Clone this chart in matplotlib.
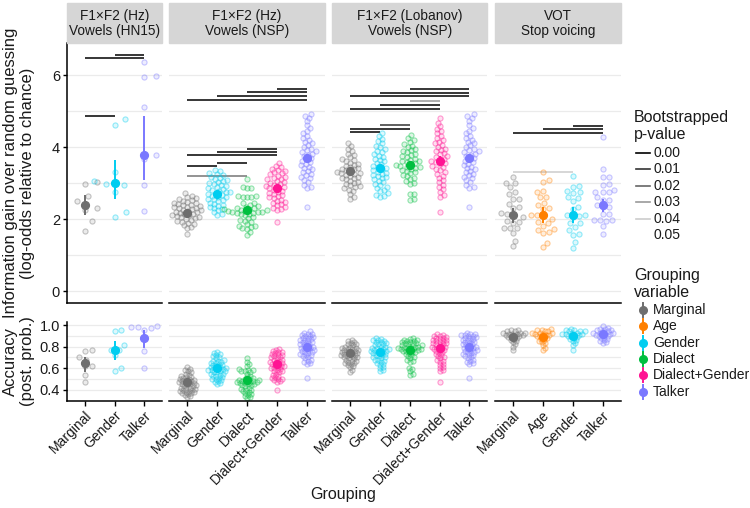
import numpy as np
import matplotlib.pyplot as plt
from matplotlib.lines import Line2D
from matplotlib.patches import Rectangle

plt.rcParams['font.family'] = ['Liberation Sans', 'DejaVu Sans']

# %% facets and groups
facet_labels = ['F1×F2 (Hz)\nVowels (HN15)', 'F1×F2 (Hz)\nVowels (NSP)',
                'F1×F2 (Lobanov)\nVowels (NSP)', 'VOT\nStop voicing']
facet_groups = [['Marginal', 'Gender', 'Talker'],
                ['Marginal', 'Gender', 'Dialect', 'Dialect+Gender', 'Talker'],
                ['Marginal', 'Gender', 'Dialect', 'Dialect+Gender', 'Talker'],
                ['Marginal', 'Age', 'Gender', 'Talker']]
legend_groups = ['Marginal', 'Age', 'Gender', 'Dialect', 'Dialect+Gender', 'Talker']
group_colors = {'Marginal': '#6e6e6e', 'Age': '#ff8000', 'Gender': '#00cdf0',
                'Dialect': '#00bf3f', 'Dialect+Gender': '#ff1493', 'Talker': '#7a78ff'}
p_levels = [0.00, 0.01, 0.02, 0.03, 0.04, 0.05]

# %% information gain (log-odds), one list per group
gain_hn15_marginal = [3.04, 2.98, 2.65, 2.50, 2.30, 2.25, 1.94, 1.68]
gain_hn15_gender = [4.78, 4.61, 3.30, 3.06, 2.98, 2.94, 2.74, 2.19, 2.06]
gain_hn15_talker = [6.35, 5.98, 5.94, 5.11, 3.78, 3.67, 2.96, 2.22]

gain_hz_marginal = [2.73, 2.65, 2.62, 2.58, 2.55, 2.52, 2.50, 2.48, 2.45, 2.44, 2.42, 2.40, 2.38, 2.36,
                    2.34, 2.33, 2.31, 2.30, 2.28, 2.26, 2.24, 2.22, 2.20, 2.19, 2.17, 2.15, 2.14, 2.12,
                    2.10, 2.08, 2.06, 2.05, 2.03, 2.01, 1.98, 1.96, 1.93, 1.90, 1.87, 1.83, 1.79, 1.74, 1.58]
gain_hz_gender = [3.36, 3.33, 3.28, 3.25, 3.22, 3.18, 3.15, 3.12, 3.08, 3.05, 3.02, 3.00, 2.97, 2.94,
                  2.92, 2.89, 2.86, 2.84, 2.81, 2.79, 2.76, 2.74, 2.72, 2.70, 2.68, 2.65, 2.62, 2.60,
                  2.57, 2.55, 2.52, 2.49, 2.46, 2.43, 2.40, 2.37, 2.34, 2.31, 2.28, 2.24, 2.19, 2.15, 2.11]
gain_hz_dialect = [3.10, 2.88, 2.87, 2.86, 2.64, 2.63, 2.62, 2.61, 2.60, 2.45, 2.44, 2.40, 2.36, 2.34,
                   2.32, 2.30, 2.28, 2.27, 2.25, 2.24, 2.23, 2.22, 2.21, 2.20, 2.19, 2.18, 2.17, 2.15,
                   2.13, 2.10, 2.05, 2.02, 1.98, 1.95, 1.92, 1.85, 1.82, 1.80, 1.78, 1.75, 1.72, 1.65, 1.56]
gain_hz_dialect_gender = [3.57, 3.48, 3.45, 3.40, 3.37, 3.34, 3.30, 3.27, 3.24, 3.21, 3.18, 3.15, 3.12,
                          3.10, 3.07, 3.04, 3.01, 2.98, 2.96, 2.93, 2.90, 2.88, 2.85, 2.82, 2.79, 2.76,
                          2.73, 2.70, 2.67, 2.64, 2.61, 2.58, 2.54, 2.50, 2.47, 2.44, 2.41, 2.38, 2.34,
                          2.30, 2.27, 2.25, 1.91]
gain_hz_talker = [4.93, 4.85, 4.82, 4.72, 4.60, 4.52, 4.45, 4.38, 4.32, 4.26, 4.20, 4.15, 4.10, 4.05,
                  4.00, 3.96, 3.92, 3.88, 3.85, 3.82, 3.78, 3.74, 3.70, 3.66, 3.62, 3.58, 3.54, 3.50,
                  3.46, 3.42, 3.38, 3.34, 3.30, 3.26, 3.22, 3.18, 3.13, 3.08, 3.02, 2.96, 2.90, 2.87, 2.34]

gain_lob_marginal = [4.12, 4.02, 3.94, 3.88, 3.82, 3.77, 3.72, 3.68, 3.64, 3.60, 3.57, 3.54, 3.51, 3.48,
                     3.45, 3.42, 3.40, 3.38, 3.35, 3.33, 3.31, 3.29, 3.27, 3.25, 3.23, 3.20, 3.18, 3.15,
                     3.13, 3.10, 3.07, 3.04, 3.01, 2.98, 2.95, 2.92, 2.89, 2.86, 2.82, 2.78, 2.70, 2.62, 2.55]
gain_lob_gender = [4.38, 4.30, 4.22, 4.16, 4.10, 4.04, 3.99, 3.94, 3.89, 3.85, 3.80, 3.76, 3.72, 3.68,
                   3.64, 3.60, 3.56, 3.52, 3.48, 3.44, 3.41, 3.38, 3.35, 3.32, 3.29, 3.26, 3.23, 3.20,
                   3.17, 3.14, 3.10, 3.06, 3.02, 2.98, 2.94, 2.90, 2.86, 2.82, 2.77, 2.72, 2.68, 2.65, 2.62]
gain_lob_dialect = [4.33, 4.25, 4.20, 4.14, 4.08, 4.04, 4.00, 3.96, 3.92, 3.88, 3.85, 3.82, 3.78, 3.75,
                    3.72, 3.68, 3.65, 3.62, 3.60, 3.58, 3.55, 3.52, 3.50, 3.48, 3.46, 3.44, 3.42, 3.40,
                    3.37, 3.34, 3.30, 3.27, 3.23, 3.19, 3.15, 3.10, 3.05, 3.00, 2.97, 2.71, 2.69, 2.55, 2.53]
gain_lob_dialect_gender = [4.80, 4.68, 4.58, 4.50, 4.44, 4.38, 4.32, 4.26, 4.20, 4.15, 4.10, 4.05, 4.00,
                           3.96, 3.92, 3.88, 3.84, 3.80, 3.76, 3.72, 3.68, 3.65, 3.62, 3.58, 3.55, 3.52,
                           3.48, 3.44, 3.40, 3.35, 3.30, 3.25, 3.20, 3.14, 3.08, 3.02, 2.96, 2.90, 2.84,
                           2.76, 2.68, 2.62, 2.20]
gain_lob_talker = [4.93, 4.85, 4.82, 4.72, 4.60, 4.52, 4.45, 4.38, 4.32, 4.26, 4.20, 4.15, 4.10, 4.05,
                   4.00, 3.96, 3.92, 3.88, 3.85, 3.82, 3.78, 3.74, 3.70, 3.66, 3.62, 3.58, 3.54, 3.50,
                   3.46, 3.42, 3.38, 3.34, 3.30, 3.26, 3.22, 3.18, 3.13, 3.08, 3.02, 2.96, 2.90, 2.87, 2.34]

gain_vot_marginal = [3.16, 3.00, 2.99, 2.88, 2.76, 2.69, 2.57, 2.56, 2.42, 2.33, 2.30, 2.16, 2.14, 2.12,
                     2.05, 1.95, 1.92, 1.90, 1.76, 1.75, 1.74, 1.60, 1.40, 1.24]
gain_vot_age = [3.30, 3.09, 3.04, 2.79, 2.74, 2.62, 2.60, 2.46, 2.40, 2.31, 2.28, 2.12, 2.10, 2.08,
                2.00, 1.91, 1.90, 1.80, 1.73, 1.69, 1.64, 1.60, 1.35, 1.22]
gain_vot_gender = [3.21, 2.92, 2.90, 2.77, 2.74, 2.73, 2.60, 2.58, 2.51, 2.34, 2.28, 2.12, 2.10, 2.08,
                   2.07, 1.90, 1.89, 1.79, 1.71, 1.58, 1.57, 1.37, 1.21]
gain_vot_talker = [4.29, 3.38, 3.18, 3.16, 2.97, 2.94, 2.81, 2.76, 2.75, 2.74, 2.60, 2.53, 2.52, 2.40,
                   2.34, 2.33, 2.14, 2.13, 1.98, 1.97, 1.97, 1.96, 1.81, 1.58]

# %% accuracy (posterior probability), one list per group
acc_hn15_marginal = [0.77, 0.76, 0.70, 0.68, 0.62, 0.62, 0.54, 0.47]
acc_hn15_gender = [0.95, 0.94, 0.81, 0.77, 0.77, 0.72, 0.60, 0.57]
acc_hn15_talker = [0.99, 0.98, 0.98, 0.97, 0.95, 0.88, 0.76, 0.60]

acc_hz_marginal = [0.61, 0.59, 0.58, 0.57, 0.56, 0.55, 0.54, 0.53, 0.52, 0.52, 0.51, 0.50, 0.50, 0.49,
                   0.49, 0.48, 0.48, 0.47, 0.47, 0.46, 0.46, 0.45, 0.45, 0.44, 0.44, 0.43, 0.43, 0.42,
                   0.42, 0.41, 0.41, 0.40, 0.40, 0.39, 0.39, 0.38, 0.38, 0.37, 0.37, 0.36, 0.35, 0.34, 0.33]
acc_hz_gender = [0.75, 0.74, 0.73, 0.72, 0.71, 0.70, 0.69, 0.68, 0.67, 0.67, 0.66, 0.65, 0.65, 0.64,
                 0.63, 0.63, 0.62, 0.61, 0.61, 0.60, 0.60, 0.59, 0.59, 0.58, 0.58, 0.57, 0.57, 0.56,
                 0.56, 0.55, 0.55, 0.54, 0.53, 0.53, 0.52, 0.51, 0.50, 0.50, 0.49, 0.48, 0.47, 0.46, 0.45]
acc_hz_dialect = [0.69, 0.66, 0.64, 0.62, 0.59, 0.58, 0.58, 0.57, 0.57, 0.56, 0.55, 0.53, 0.52, 0.51,
                  0.50, 0.50, 0.49, 0.49, 0.48, 0.48, 0.48, 0.47, 0.47, 0.47, 0.46, 0.46, 0.45, 0.45,
                  0.44, 0.44, 0.43, 0.42, 0.41, 0.40, 0.40, 0.39, 0.38, 0.37, 0.36, 0.35, 0.34, 0.33, 0.32]
acc_hz_dialect_gender = [0.78, 0.77, 0.76, 0.75, 0.75, 0.74, 0.73, 0.72, 0.72, 0.71, 0.70, 0.70, 0.69,
                         0.68, 0.68, 0.67, 0.66, 0.66, 0.65, 0.64, 0.64, 0.63, 0.62, 0.62, 0.61, 0.60,
                         0.60, 0.59, 0.58, 0.57, 0.57, 0.56, 0.55, 0.54, 0.53, 0.52, 0.51, 0.50, 0.50,
                         0.49, 0.48, 0.47, 0.40]
acc_hz_talker = [0.94, 0.93, 0.92, 0.92, 0.91, 0.90, 0.90, 0.89, 0.88, 0.88, 0.87, 0.86, 0.86, 0.85,
                 0.84, 0.84, 0.83, 0.82, 0.82, 0.81, 0.80, 0.80, 0.79, 0.79, 0.78, 0.77, 0.77, 0.76,
                 0.75, 0.75, 0.74, 0.73, 0.72, 0.72, 0.71, 0.70, 0.69, 0.68, 0.67, 0.66, 0.65, 0.64, 0.51]

acc_lob_marginal = [0.86, 0.85, 0.84, 0.83, 0.82, 0.82, 0.81, 0.80, 0.80, 0.79, 0.79, 0.78, 0.78, 0.77,
                    0.77, 0.76, 0.76, 0.75, 0.75, 0.74, 0.74, 0.73, 0.73, 0.72, 0.72, 0.71, 0.71, 0.70,
                    0.70, 0.69, 0.69, 0.68, 0.67, 0.67, 0.66, 0.65, 0.65, 0.64, 0.63, 0.62, 0.61, 0.58, 0.56]
acc_lob_gender = [0.88, 0.87, 0.86, 0.86, 0.85, 0.84, 0.84, 0.83, 0.82, 0.82, 0.81, 0.80, 0.80, 0.79,
                  0.79, 0.78, 0.78, 0.77, 0.77, 0.76, 0.76, 0.75, 0.75, 0.74, 0.74, 0.73, 0.72, 0.72,
                  0.71, 0.70, 0.70, 0.69, 0.68, 0.68, 0.67, 0.66, 0.65, 0.64, 0.63, 0.61, 0.60, 0.58, 0.57]
acc_lob_dialect = [0.88, 0.87, 0.86, 0.86, 0.85, 0.85, 0.84, 0.84, 0.83, 0.83, 0.82, 0.82, 0.81, 0.81,
                   0.80, 0.80, 0.80, 0.79, 0.79, 0.79, 0.78, 0.78, 0.78, 0.77, 0.77, 0.76, 0.76, 0.75,
                   0.75, 0.74, 0.73, 0.72, 0.71, 0.70, 0.69, 0.68, 0.67, 0.66, 0.60, 0.59, 0.57, 0.55, 0.54]
acc_lob_dialect_gender = [0.92, 0.91, 0.90, 0.90, 0.89, 0.88, 0.88, 0.87, 0.86, 0.86, 0.85, 0.85, 0.84,
                          0.83, 0.83, 0.82, 0.82, 0.81, 0.80, 0.80, 0.79, 0.79, 0.78, 0.77, 0.77, 0.76,
                          0.75, 0.74, 0.73, 0.72, 0.71, 0.70, 0.69, 0.68, 0.67, 0.66, 0.64, 0.63, 0.61,
                          0.60, 0.58, 0.57, 0.47]
acc_lob_talker = [0.93, 0.92, 0.92, 0.91, 0.91, 0.90, 0.90, 0.89, 0.88, 0.88, 0.87, 0.86, 0.86, 0.85,
                  0.84, 0.84, 0.83, 0.82, 0.82, 0.81, 0.80, 0.80, 0.79, 0.79, 0.78, 0.77, 0.77, 0.76,
                  0.75, 0.75, 0.74, 0.73, 0.72, 0.72, 0.71, 0.70, 0.69, 0.68, 0.67, 0.66, 0.65, 0.64, 0.51]

acc_vot_marginal = [0.95, 0.95, 0.94, 0.94, 0.93, 0.93, 0.93, 0.92, 0.92, 0.92, 0.91, 0.91, 0.90, 0.90,
                    0.89, 0.89, 0.88, 0.87, 0.86, 0.85, 0.84, 0.82, 0.80, 0.77]
acc_vot_age = [0.96, 0.95, 0.95, 0.94, 0.94, 0.93, 0.93, 0.93, 0.92, 0.92, 0.91, 0.91, 0.90, 0.90,
               0.89, 0.88, 0.87, 0.86, 0.85, 0.84, 0.83, 0.81, 0.79, 0.77]
acc_vot_gender = [0.96, 0.95, 0.95, 0.94, 0.94, 0.94, 0.93, 0.93, 0.92, 0.92, 0.92, 0.91, 0.91, 0.90,
                  0.90, 0.89, 0.88, 0.87, 0.86, 0.85, 0.83, 0.81, 0.77]
acc_vot_talker = [0.99, 0.97, 0.96, 0.96, 0.95, 0.95, 0.94, 0.94, 0.93, 0.93, 0.93, 0.92, 0.92, 0.91,
                  0.91, 0.90, 0.90, 0.89, 0.88, 0.87, 0.86, 0.85, 0.84, 0.83]

# %% summary estimates (mean and 95% interval) per facet
gain_mean = [[2.39, 2.99, 3.77], [2.18, 2.71, 2.25, 2.85, 3.69],
             [3.34, 3.41, 3.50, 3.62, 3.69], [2.11, 2.12, 2.11, 2.38]]
gain_lo = [[2.12, 2.56, 3.08], [2.10, 2.62, 2.16, 2.76, 3.58],
           [3.25, 3.31, 3.41, 3.49, 3.58], [1.90, 1.90, 1.90, 2.20]]
gain_hi = [[2.67, 3.64, 4.86], [2.26, 2.80, 2.34, 2.95, 3.80],
           [3.43, 3.51, 3.60, 3.76, 3.80], [2.31, 2.34, 2.33, 2.56]]
acc_mean = [[0.643, 0.770, 0.876], [0.467, 0.597, 0.486, 0.634, 0.795],
            [0.737, 0.746, 0.770, 0.783, 0.798], [0.891, 0.888, 0.895, 0.913]]
acc_lo = [[0.566, 0.672, 0.783], [0.452, 0.582, 0.468, 0.617, 0.780],
          [0.722, 0.730, 0.755, 0.765, 0.783], [0.872, 0.870, 0.877, 0.896]]
acc_hi = [[0.705, 0.851, 0.953], [0.482, 0.612, 0.504, 0.651, 0.810],
          [0.752, 0.762, 0.785, 0.801, 0.813], [0.910, 0.906, 0.913, 0.930]]

# %% pairwise comparisons: facet, group from, group to, height, p
sig_facet = [0, 0, 0,
             1, 1, 1, 1, 1, 1, 1, 1, 1, 1,
             2, 2, 2, 2, 2, 2, 2, 2, 2,
             3, 3, 3, 3]
sig_from = [0, 0, 1,
            0, 1, 2, 3, 0, 1, 2, 0, 1, 0,
            0, 1, 2, 2, 0, 1, 0, 1, 0,
            0, 1, 2, 0]
sig_to = [1, 2, 2,
          4, 4, 4, 4, 3, 3, 3, 1, 2, 2,
          4, 4, 4, 3, 3, 3, 2, 2, 1,
          3, 3, 3, 2]
sig_y = [4.87, 6.46, 6.57,
         5.32, 5.43, 5.53, 5.62, 3.77, 3.86, 3.96, 3.48, 3.57, 3.19,
         5.41, 5.51, 5.60, 5.28, 5.07, 5.18, 4.50, 4.61, 4.41,
         4.39, 4.49, 4.59, 3.31]
sig_p = [0.0, 0.0, 0.0,
         0.0, 0.0, 0.0, 0.0, 0.0, 0.0, 0.0, 0.0, 0.0, 0.023,
         0.0, 0.0, 0.0, 0.03, 0.0, 0.0, 0.0, 0.01, 0.0,
         0.0, 0.0, 0.0, 0.04]

gain_data = [[gain_hn15_marginal, gain_hn15_gender, gain_hn15_talker],
             [gain_hz_marginal, gain_hz_gender, gain_hz_dialect, gain_hz_dialect_gender, gain_hz_talker],
             [gain_lob_marginal, gain_lob_gender, gain_lob_dialect, gain_lob_dialect_gender, gain_lob_talker],
             [gain_vot_marginal, gain_vot_age, gain_vot_gender, gain_vot_talker]]
acc_data = [[acc_hn15_marginal, acc_hn15_gender, acc_hn15_talker],
            [acc_hz_marginal, acc_hz_gender, acc_hz_dialect, acc_hz_dialect_gender, acc_hz_talker],
            [acc_lob_marginal, acc_lob_gender, acc_lob_dialect, acc_lob_dialect_gender, acc_lob_talker],
            [acc_vot_marginal, acc_vot_age, acc_vot_gender, acc_vot_talker]]


def p_gray(p):
    return str(min(p / 0.05, 1.0))


def swarm(values, ppu_y, ppu_x, gap):
    # simple beeswarm: place points bottom-up, nudging sideways until no overlap (pixel space)
    y = np.asarray(values, float) * ppu_y
    xs = np.zeros(len(y))
    px, py = [], []
    for i in np.argsort(y):
        k = 0
        while True:
            off = ((k + 1) // 2) * 0.4 * (1 if k % 2 else -1)
            if not px or np.all((np.array(px) - off) ** 2 + (np.array(py) - y[i]) ** 2 >= gap ** 2):
                break
            k += 1
        xs[i] = off
        px.append(off)
        py.append(y[i])
    return xs / ppu_x


def swarm_gap(row, n):
    if n < 12:
        return 12.0 if row == 0 else 6.5
    if n < 30:
        return 6.0 if row == 0 else 3.2
    return 4.3 if row == 0 else 3.1


# %% layout (in pixels of the 750x508 canvas)
W, H = 750, 508
fig = plt.figure(figsize=(7.5, 5.08), dpi=100)
panel_x = [(67, 162), (169.3, 324.7), (332, 487.3), (495, 620.7)]
rows = [(43, 303, (-0.33, 6.89), [0, 2, 4, 6], [1, 3, 5]),
        (322, 401, (0.295, 1.028), [0.4, 0.6, 0.8, 1.0], [0.5, 0.7, 0.9])]
text_col = '#1a1a1a'

for r, (top, bot, ylim, majors, minors) in enumerate(rows):
    for f, (x0, x1) in enumerate(panel_x):
        ax = fig.add_axes([x0 / W, 1 - bot / H, (x1 - x0) / W, (bot - top) / H])
        groups = facet_groups[f]
        n = len(groups)
        ax.set_xlim(-0.6, n - 1 + 0.6)
        ax.set_ylim(*ylim)
        ppu_x = (x1 - x0) / (n - 1 + 1.2)
        ppu_y = (bot - top) / (ylim[1] - ylim[0])
        for g in majors + minors:
            ax.axhline(g, color='#ebebeb', lw=0.9, zorder=0)
        data = gain_data[f] if r == 0 else acc_data[f]
        mean = gain_mean[f] if r == 0 else acc_mean[f]
        lo = gain_lo[f] if r == 0 else acc_lo[f]
        hi = gain_hi[f] if r == 0 else acc_hi[f]
        for i, (g, vals) in enumerate(zip(groups, data)):
            col = group_colors[g]
            xs = i + swarm(vals, ppu_y, ppu_x, swarm_gap(r, len(vals)))
            ax.plot(xs, vals, 'o', ms=3.7, mfc=col + '22', mec=col + '66', mew=0.8, zorder=2)
            ax.plot([i, i], [lo[i], hi[i]], color=col, lw=1.4, zorder=3, solid_capstyle='butt')
            ax.plot(i, mean[i], 'o', ms=5.6, color=col, zorder=4)
        if r == 0:
            for sf, a, b, yy, p in zip(sig_facet, sig_from, sig_to, sig_y, sig_p):
                if sf == f:
                    ax.plot([a, b], [yy, yy], color=p_gray(p), lw=1.1, zorder=1,
                            solid_capstyle='butt')
        for s in ['top', 'right']:
            ax.spines[s].set_visible(False)
        ax.spines['bottom'].set_linewidth(1.1)
        ax.spines['left'].set_linewidth(1.1)
        ax.spines['left'].set_visible(f == 0)
        ax.set_yticks(majors)
        if f == 0:
            ax.set_yticklabels([f'{v:g}' if r == 0 else f'{v:.1f}' for v in majors])
            ax.tick_params(axis='y', length=3, width=1, labelsize=10.5, labelcolor=text_col, pad=2)
        else:
            ax.tick_params(axis='y', length=0, labelleft=False)
        ax.set_xticks(range(n))
        if r == 1:
            ax.set_xticklabels(groups, rotation=45, ha='right', va='top',
                               rotation_mode='anchor', fontsize=10, color=text_col)
            ax.tick_params(axis='x', length=3.5, width=1, pad=2)
        else:
            ax.tick_params(axis='x', length=0, labelbottom=False)

        if r == 0:
            fig.patches.append(Rectangle((x0 / W, 1 - 43 / H), (x1 - x0) / W, 40 / H,
                                         transform=fig.transFigure, color='#d6d6d6', zorder=0))
            fig.text((x0 + x1) / 2 / W, 1 - 23.5 / H, facet_labels[f], ha='center', va='center',
                     fontsize=9.8, color=text_col, linespacing=1.1)

fig.text(19 / W, 1 - 173 / H, 'Information gain over random guessing\n(log-odds relative to chance)',
         rotation=90, ha='center', va='center', fontsize=12, color=text_col, linespacing=1.15)
fig.text(19 / W, 1 - 361 / H, 'Accuracy\n(post. prob.)', rotation=90, ha='center', va='center',
         fontsize=12, color=text_col, linespacing=1.15)
fig.text(343 / W, 1 - 494 / H, 'Grouping', ha='center', va='center', fontsize=11.5, color=text_col)

# %% legends, laid out by hand in canvas pixels
def fpt(x, y):
    return x / W, 1 - y / H


fig.text(*fpt(634, 126), 'Bootstrapped\np-value', ha='left', va='center', fontsize=11.5,
         color=text_col, linespacing=1.1)
for k, p in enumerate(p_levels):
    yy = 153 + k * 16.4
    (xa, ya), (xb, _) = fpt(636, yy), fpt(650, yy)
    fig.add_artist(Line2D([xa, xb], [ya, ya], color=p_gray(p), lw=1.2, transform=fig.transFigure))
    fig.text(*fpt(653, yy), f'{p:.2f}', ha='left', va='center', fontsize=10, color=text_col)

fig.text(*fpt(634, 284), 'Grouping\nvariable', ha='left', va='center', fontsize=11.5,
         color=text_col, linespacing=1.1)
for k, g in enumerate(legend_groups):
    yy = 310 + k * 16.3
    xa, ya = fpt(643, yy - 7)
    _, yb = fpt(643, yy + 7)
    fig.add_artist(Line2D([xa, xa], [ya, yb], color=group_colors[g], lw=1.4,
                          transform=fig.transFigure))
    fig.add_artist(Line2D([xa], [fpt(643, yy)[1]], color=group_colors[g], marker='o', ms=5.5,
                          ls='none', transform=fig.transFigure))
    fig.text(*fpt(653, yy), g, ha='left', va='center', fontsize=10, color=text_col)

fig.savefig('out.png', dpi=100)
